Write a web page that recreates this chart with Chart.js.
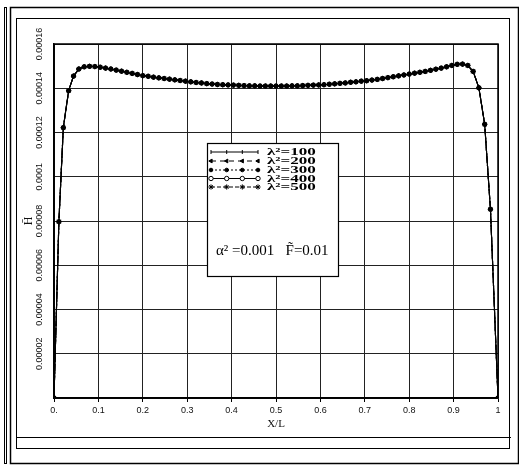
<!DOCTYPE html>
<html>
<head>
<meta charset="utf-8">
<script src="https://cdn.jsdelivr.net/npm/chart.js@4/dist/chart.umd.min.js"></script>
<style>
  html, body { margin: 0; padding: 0; background: #fff; }
  #wrap { position: relative; width: 519px; height: 466px; }
  canvas { display: block; }
</style>
</head>
<body>
<div id="wrap"><canvas id="c" width="519" height="466"></canvas></div>
<script>
// Positions along the plate, X/L
const xPos = [
  0, 0.011, 0.021, 0.033, 0.044, 0.056, 0.068, 0.08,
  0.092, 0.104, 0.116, 0.128, 0.14, 0.152, 0.164, 0.176, 0.188, 0.2,
  0.212, 0.224, 0.236, 0.248, 0.26, 0.272, 0.284, 0.296, 0.308, 0.32,
  0.332, 0.344, 0.356, 0.368, 0.38, 0.392, 0.404, 0.416, 0.428, 0.44,
  0.452, 0.464, 0.476, 0.488, 0.5, 0.512, 0.524, 0.536, 0.548, 0.56,
  0.572, 0.584, 0.596, 0.608, 0.62, 0.632, 0.644, 0.656, 0.668, 0.68,
  0.692, 0.704, 0.716, 0.728, 0.74, 0.752, 0.764, 0.776, 0.788, 0.8,
  0.812, 0.824, 0.836, 0.848, 0.86, 0.872, 0.884, 0.896, 0.908, 0.92,
  0.932, 0.944, 0.957, 0.97, 0.983, 1.0
];

// H values; the five λ² curves coincide at this scale
const hValues = [
  0, 0.797e-4, 1.222e-4, 1.389e-4, 1.455e-4, 1.487e-4, 1.497e-4, 1.499e-4,
  1.498e-4, 1.495e-4, 1.491e-4, 1.487e-4, 1.482e-4, 1.477e-4, 1.472e-4, 1.467e-4, 1.462e-4, 1.457e-4,
  1.454e-4, 1.450e-4, 1.447e-4, 1.444e-4, 1.441e-4, 1.438e-4, 1.435e-4, 1.432e-4, 1.429e-4, 1.426e-4,
  1.424e-4, 1.421e-4, 1.419e-4, 1.417e-4, 1.416e-4, 1.415e-4, 1.414e-4, 1.413e-4, 1.412e-4, 1.411e-4,
  1.411e-4, 1.410e-4, 1.410e-4, 1.410e-4, 1.410e-4, 1.410e-4, 1.410e-4, 1.411e-4, 1.411e-4, 1.412e-4,
  1.413e-4, 1.414e-4, 1.415e-4, 1.416e-4, 1.418e-4, 1.420e-4, 1.422e-4, 1.424e-4, 1.427e-4, 1.429e-4,
  1.432e-4, 1.434e-4, 1.437e-4, 1.440e-4, 1.444e-4, 1.448e-4, 1.452e-4, 1.456e-4, 1.460e-4, 1.464e-4,
  1.468e-4, 1.472e-4, 1.476e-4, 1.481e-4, 1.486e-4, 1.491e-4, 1.497e-4, 1.503e-4, 1.508e-4, 1.509e-4,
  1.503e-4, 1.476e-4, 1.402e-4, 1.237e-4, 0.853e-4, 0
];

const seriesNames = ['λ²=100', 'λ²=200', 'λ²=300', 'λ²=400', 'λ²=500'];

const xTickValues = [0, 0.1, 0.2, 0.3, 0.4, 0.5, 0.6, 0.7, 0.8, 0.9, 1];
const xTickLabels = ['0.', '0.1', '0.2', '0.3', '0.4', '0.5', '0.6', '0.7', '0.8', '0.9', '1'];
const yTickValues = [0, 0.00002, 0.00004, 0.00006, 0.00008, 0.0001, 0.00012, 0.00014, 0.00016];
const yTickLabels = ['', '0.00002', '0.00004', '0.00006', '0.00008', '0.0001', '0.00012', '0.00014', '0.00016'];

const noteText = 'α² =0.001   F\u0303=0.01';

// line / marker look of each λ² series
const seriesStyles = [
  { dash: [],     pointStyle: 'line',     rotation: 90,  radius: 2.0, fill: '#000', order: 4 },
  { dash: [5, 4], pointStyle: 'triangle', rotation: -90, radius: 2.2, fill: '#000', order: 3 },
  { dash: [2, 2], pointStyle: 'circle',   rotation: 0,   radius: 1.8, fill: '#000', order: 0 },
  { dash: [],     pointStyle: 'circle',   rotation: 0,   radius: 2.2, fill: '#fff', order: 2 },
  { dash: [4, 2], pointStyle: 'star',     rotation: 0,   radius: 2.6, fill: '#000', order: 1 }
];

const datasets = seriesNames.map((name, i) => {
  const s = seriesStyles[i];
  return {
    label: name,
    data: xPos.map((x, k) => ({ x: x, y: hValues[k] })),
    borderColor: '#000',
    borderWidth: 1.1,
    borderDash: s.dash,
    backgroundColor: s.fill,
    pointStyle: s.pointStyle,
    pointRotation: s.rotation,
    pointRadius: s.radius,
    pointBorderWidth: 1,
    pointBorderColor: '#000',
    pointBackgroundColor: s.fill,
    tension: 0,
    order: s.order
  };
});

// white page, scanned-style frames and the plot border
const framePlugin = {
  id: 'frames',
  beforeDraw(chart) {
    const ctx = chart.ctx;
    ctx.save();
    ctx.fillStyle = '#fff';
    ctx.fillRect(0, 0, chart.width, chart.height);
    ctx.strokeStyle = '#000';
    ctx.lineWidth = 1.5;
    ctx.strokeRect(10.5, 7.5, 508, 456);
    ctx.lineWidth = 1;
    ctx.strokeRect(4.5, 7.5, 2, 456);
    ctx.strokeRect(16.5, 18.5, 493, 430);
    ctx.beginPath();
    ctx.moveTo(16, 437.5);
    ctx.lineTo(511, 437.5);
    ctx.stroke();
    ctx.restore();
  },
  afterDatasetsDraw(chart) {
    const a = chart.chartArea;
    const ctx = chart.ctx;
    ctx.save();
    ctx.strokeStyle = '#000';
    ctx.lineWidth = 1.5;
    ctx.strokeRect(a.left, a.top, a.right - a.left, a.bottom - a.top);
    ctx.restore();
  }
};

// in-plot legend box with the parameter note
const legendBoxPlugin = {
  id: 'legendBox',
  afterDraw(chart) {
    const ctx = chart.ctx;
    const box = { x: 207.5, y: 143.5, w: 131, h: 133 };
    ctx.save();
    ctx.fillStyle = '#fff';
    ctx.fillRect(box.x, box.y, box.w, box.h);
    ctx.strokeStyle = '#000';
    ctx.lineWidth = 1.2;
    ctx.strokeRect(box.x, box.y, box.w, box.h);

    const rowY = [152, 161, 170, 178.5, 187];
    const x0 = 211, x1 = 258;
    chart.data.datasets.forEach((ds, i) => {
      const y = rowY[i];
      ctx.save();
      ctx.strokeStyle = '#000';
      ctx.lineWidth = 1;
      ctx.setLineDash(ds.borderDash);
      ctx.beginPath();
      ctx.moveTo(x0, y);
      ctx.lineTo(x1, y);
      ctx.stroke();
      ctx.setLineDash([]);
      const mk = [x0, x0 + 15.7, x0 + 31.3, x1];
      mk.forEach(mx => {
        ctx.fillStyle = ds.pointBackgroundColor;
        ctx.strokeStyle = '#000';
        ctx.lineWidth = 1;
        if (Chart.helpers && Chart.helpers.drawPoint) {
          Chart.helpers.drawPoint(ctx, {
            pointStyle: ds.pointStyle, rotation: ds.pointRotation,
            radius: ds.pointRadius, borderWidth: 1
          }, mx, y);
        } else {
          ctx.beginPath();
          ctx.arc(mx, y, ds.pointRadius, 0, Math.PI * 2);
          ctx.fill();
          ctx.stroke();
        }
      });
      ctx.restore();

      // stretched bold serif labels
      ctx.save();
      ctx.translate(267, y);
      ctx.scale(1.7, 1);
      ctx.fillStyle = '#000';
      ctx.font = 'bold 10px "Liberation Serif"';
      ctx.textBaseline = 'middle';
      ctx.textAlign = 'left';
      ctx.fillText(ds.label, 0, 0.5);
      ctx.restore();
    });

    ctx.fillStyle = '#000';
    ctx.font = '15px "Liberation Serif"';
    ctx.textBaseline = 'middle';
    ctx.textAlign = 'left';
    ctx.fillText(noteText, 216, 251);
    ctx.restore();
  }
};

new Chart(document.getElementById('c'), {
  type: 'line',
  data: { datasets: datasets },
  plugins: [framePlugin, legendBoxPlugin],
  options: {
    responsive: false,
    devicePixelRatio: 1,
    animation: false,
    layout: { padding: { top: 44, right: 21, left: 0, bottom: 0 } },
    plugins: { legend: { display: false }, tooltip: { enabled: false } },
    scales: {
      x: {
        type: 'linear',
        min: 0,
        max: 1,
        afterBuildTicks: s => { s.ticks = xTickValues.map(v => ({ value: v })); },
        afterFit: s => { s.height = 68; },
        grid: { color: '#222', lineWidth: 1, tickLength: 4, tickColor: '#000' },
        border: { color: '#000', width: 1.5 },
        ticks: {
          color: '#111',
          padding: 3,
          maxRotation: 0,
          autoSkip: false,
          font: { family: 'Liberation Sans', size: 9 },
          callback: (v, i) => xTickLabels[i]
        },
        title: {
          display: true,
          text: 'X/L',
          color: '#111',
          font: { family: 'Liberation Serif', size: 11 },
          padding: { top: 0, bottom: 35 }
        }
      },
      y: {
        type: 'linear',
        min: 0,
        max: 0.00016,
        afterBuildTicks: s => { s.ticks = yTickValues.map(v => ({ value: v })); },
        afterFit: s => { s.width = 54; },
        grid: { color: '#222', lineWidth: 1, drawTicks: false },
        border: { color: '#000', width: 1.5 },
        ticks: {
          color: '#111',
          minRotation: 90,
          maxRotation: 90,
          crossAlign: 'center',
          padding: -2,
          autoSkip: false,
          font: { family: 'Liberation Sans', size: 9 },
          callback: (v, i) => yTickLabels[i]
        },
        title: {
          display: true,
          text: 'H\u0304',
          color: '#111',
          font: { family: 'Liberation Serif', size: 12 },
          padding: { top: 22, bottom: 0 }
        }
      }
    }
  }
});
</script>
</body>
</html>
